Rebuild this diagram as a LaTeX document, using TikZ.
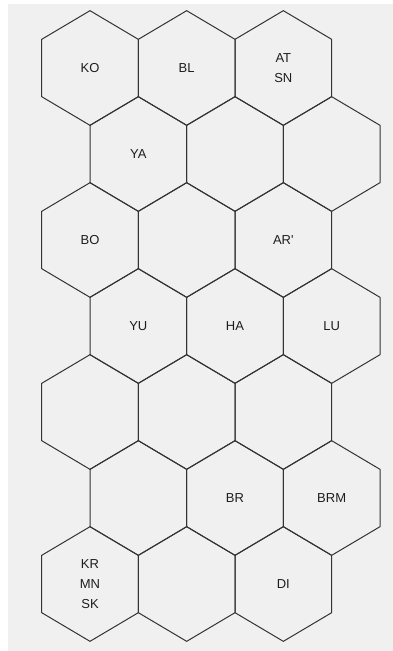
\documentclass[tikz,border=0pt]{standalone}
\usepackage{fontspec}
\setmainfont{Liberation Sans}
\definecolor{bggray}{HTML}{F0F0F0}
\definecolor{hexgray}{HTML}{333333}
\definecolor{labelgray}{HTML}{1E1E1E}
\begin{document}
\begin{tikzpicture}[x=1pt,y=-1pt,
  hexline/.style={draw=hexgray, line width=1pt, line join=round},
  lbl/.style={font=\fontsize{13}{20}\selectfont, text=labelgray, align=center, inner sep=0pt}]
\useasboundingbox (0,0) rectangle (393,651);
\fill[white] (0,0) rectangle (393,651);
\fill[bggray] (8,4) rectangle (393,651);
\foreach \r in {0,...,6} {
  \foreach \c in {0,1,2} {
    \pgfmathsetmacro\cx{90+96.67*\c+48.33*mod(\r,2)}
    \pgfmathsetmacro\cy{68+86*\r}
    \coordinate (h\r\c) at (\cx,\cy);
    \draw[hexline] (\cx,\cy-57.33) -- (\cx+48.33,\cy-28.67) -- (\cx+48.33,\cy+28.67)
      -- (\cx,\cy+57.33) -- (\cx-48.33,\cy+28.67) -- (\cx-48.33,\cy-28.67) -- cycle;
  }
}
\node[lbl] (ko) at (h00) {KO};
\node[lbl] (bl) at (h01) {BL};
\node[lbl] (atsn) at (h02) {AT\\SN};
\node[lbl] (ya) at (h10) {YA};
\node[lbl] (bo) at (h20) {BO};
\node[lbl] (ar) at (h22) {AR\textquotesingle};
\node[lbl] (yu) at (h30) {YU};
\node[lbl] (ha) at (h31) {HA};
\node[lbl] (lu) at (h32) {LU};
\node[lbl] (br) at (h51) {BR};
\node[lbl] (brm) at (h52) {BRM};
\node[lbl] (krmnsk) at (h60) {KR\\MN\\SK};
\node[lbl] (di) at (h62) {DI};
\end{tikzpicture}
\end{document}
